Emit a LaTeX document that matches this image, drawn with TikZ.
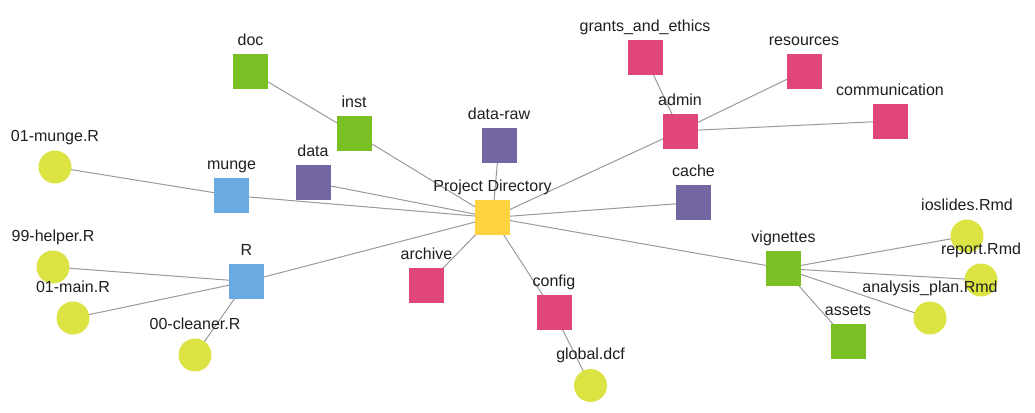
\documentclass[tikz,border=0pt]{standalone}
\usepackage{fontspec}
\setmainfont{Liberation Sans}
\pgfdeclarelayer{bg}
\pgfsetlayers{bg,main}
\definecolor{cgreen}{HTML}{7AC025}
\definecolor{cpurple}{HTML}{7466A0}
\definecolor{cblue}{HTML}{69AAE3}
\definecolor{cpink}{HTML}{E0457B}
\definecolor{cyellow}{HTML}{FFD23F}
\definecolor{clime}{HTML}{DCE444}
\definecolor{cedge}{HTML}{9A9A9A}
\begin{document}
\begin{tikzpicture}[x=0.75pt,y=-0.75pt,
  sq/.style={rectangle,minimum size=26.25pt,inner sep=0pt},
  dot/.style={circle,minimum size=24.75pt,inner sep=0pt,fill=clime},
  lab/.style={anchor=base,inner sep=0pt,font=\fontsize{12}{14}\selectfont,text=black!88},
  edge/.style={draw=cedge,line width=0.75pt}]
\useasboundingbox (0,0) rectangle (1035,412);
% nodes
\node[sq,fill=cgreen]  (doc)       at (250.5,71.5) {};
\node[sq,fill=cgreen]  (inst)      at (354,133) {};
\node[dot]             (munge01)   at (55,167) {};
\node[sq,fill=cblue]   (munge)     at (231.5,195.5) {};
\node[sq,fill=cpurple] (data)      at (313,182.5) {};
\node[sq,fill=cpurple] (dataraw)   at (499,145) {};
\node[sq,fill=cyellow] (proj)      at (492.5,217.5) {};
\node[sq,fill=cpink]   (grants)    at (645,57) {};
\node[sq,fill=cpink]   (admin)     at (680,131) {};
\node[sq,fill=cpink]   (resources) at (804,71) {};
\node[sq,fill=cpink]   (comm)      at (890,121) {};
\node[sq,fill=cpurple] (cache)     at (693.5,202.5) {};
\node[dot]             (ioslides)  at (967,236) {};
\node[dot]             (report)    at (981,280) {};
\node[dot]             (analysis)  at (930,318) {};
\node[sq,fill=cgreen]  (vignettes) at (783.5,268.5) {};
\node[sq,fill=cgreen]  (assets)    at (848,341) {};
\node[sq,fill=cpink]   (archive)   at (426.5,285) {};
\node[sq,fill=cpink]   (config)    at (554,312.5) {};
\node[dot]             (global)    at (590.5,385.5) {};
\node[sq,fill=cblue]   (R)         at (246.5,281.5) {};
\node[dot]             (helper)    at (53,267) {};
\node[dot]             (main)      at (73,318) {};
\node[dot]             (cleaner)   at (195,355) {};
% edges
\begin{pgfonlayer}{bg}
\fill[white] (0,0) rectangle (1035,412);
\foreach \a/\b in {doc/inst,inst/proj,munge01/munge,munge/proj,data/proj,dataraw/proj,
  grants/admin,admin/resources,admin/comm,admin/proj,cache/proj,
  vignettes/proj,vignettes/ioslides,vignettes/report,vignettes/analysis,vignettes/assets,
  archive/proj,config/proj,config/global,
  R/proj,R/helper,R/main,R/cleaner}
  \draw[edge] (\a.center) -- (\b.center);
\end{pgfonlayer}
% labels
\path (doc.center)       ++(0,-26) node[lab] {doc};
\path (inst.center)      ++(0,-26) node[lab] {inst};
\path (munge01.center)   ++(0,-26) node[lab] {01-munge.R};
\path (munge.center)     ++(0,-26) node[lab] {munge};
\path (data.center)      ++(0,-26) node[lab] {data};
\path (dataraw.center)   ++(0,-26) node[lab] {data-raw};
\path (proj.center)      ++(0,-26) node[lab] {Project Directory};
\path (grants.center)    ++(0,-26) node[lab] {grants\_and\_ethics};
\path (admin.center)     ++(0,-26) node[lab] {admin};
\path (resources.center) ++(0,-26) node[lab] {resources};
\path (comm.center)      ++(0,-26) node[lab] {communication};
\path (cache.center)     ++(0,-26) node[lab] {cache};
\path (ioslides.center)  ++(0,-26) node[lab] {ioslides.Rmd};
\path (report.center)    ++(0,-26) node[lab] {report.Rmd};
\path (analysis.center)  ++(0,-26) node[lab] {analysis\_plan.Rmd};
\path (vignettes.center) ++(0,-26) node[lab] {vignettes};
\path (assets.center)    ++(0,-26) node[lab] {assets};
\path (archive.center)   ++(0,-26) node[lab] {archive};
\path (config.center)    ++(0,-26) node[lab] {config};
\path (global.center)    ++(0,-26) node[lab] {global.dcf};
\path (R.center)         ++(0,-26) node[lab] {R};
\path (helper.center)    ++(0,-26) node[lab] {99-helper.R};
\path (main.center)      ++(0,-26) node[lab] {01-main.R};
\path (cleaner.center)   ++(0,-26) node[lab] {00-cleaner.R};
\end{tikzpicture}
\end{document}
